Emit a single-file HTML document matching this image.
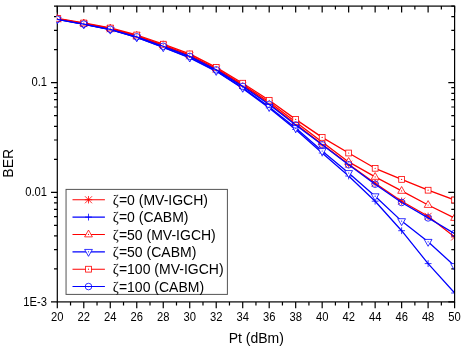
<!DOCTYPE html>
<html><head><meta charset="utf-8"><style>
html,body{margin:0;padding:0;background:#fff;}
svg{display:block;font-family:"Liberation Sans",sans-serif;}
svg{will-change:transform;}
</style></head><body>
<svg width="463" height="347" viewBox="0 0 463 347">
<defs><clipPath id="c"><rect x="56.599999999999994" y="5.6" width="397.40000000000003" height="295.79999999999995"/></clipPath></defs>
<rect width="463" height="347" fill="#fff"/>
<rect x="57.3" y="6.1" width="397.3" height="295.79999999999995" fill="none" stroke="#000" stroke-width="1.2"/>
<path d="M57.30 301.9v6.3M57.30 6.1v6.3M70.54 301.9v3.5M70.54 6.1v3.5M83.79 301.9v6.3M83.79 6.1v6.3M97.03 301.9v3.5M97.03 6.1v3.5M110.27 301.9v6.3M110.27 6.1v6.3M123.52 301.9v3.5M123.52 6.1v3.5M136.76 301.9v6.3M136.76 6.1v6.3M150.00 301.9v3.5M150.00 6.1v3.5M163.25 301.9v6.3M163.25 6.1v6.3M176.49 301.9v3.5M176.49 6.1v3.5M189.73 301.9v6.3M189.73 6.1v6.3M202.98 301.9v3.5M202.98 6.1v3.5M216.22 301.9v6.3M216.22 6.1v6.3M229.46 301.9v3.5M229.46 6.1v3.5M242.71 301.9v6.3M242.71 6.1v6.3M255.95 301.9v3.5M255.95 6.1v3.5M269.19 301.9v6.3M269.19 6.1v6.3M282.44 301.9v3.5M282.44 6.1v3.5M295.68 301.9v6.3M295.68 6.1v6.3M308.92 301.9v3.5M308.92 6.1v3.5M322.17 301.9v6.3M322.17 6.1v6.3M335.41 301.9v3.5M335.41 6.1v3.5M348.65 301.9v6.3M348.65 6.1v6.3M361.90 301.9v3.5M361.90 6.1v3.5M375.14 301.9v6.3M375.14 6.1v6.3M388.38 301.9v3.5M388.38 6.1v3.5M401.63 301.9v6.3M401.63 6.1v6.3M414.87 301.9v3.5M414.87 6.1v3.5M428.11 301.9v6.3M428.11 6.1v6.3M441.36 301.9v3.5M441.36 6.1v3.5M454.60 301.9v6.3M454.60 6.1v6.3M57.3 301.90h-6.3M454.6 301.90h-6.3M57.3 268.91h-3.3M454.6 268.91h-3.3M57.3 249.61h-3.3M454.6 249.61h-3.3M57.3 235.91h-3.3M454.6 235.91h-3.3M57.3 225.29h-3.3M454.6 225.29h-3.3M57.3 216.61h-3.3M454.6 216.61h-3.3M57.3 209.28h-3.3M454.6 209.28h-3.3M57.3 202.92h-3.3M454.6 202.92h-3.3M57.3 197.32h-3.3M454.6 197.32h-3.3M57.3 192.30h-6.3M454.6 192.30h-6.3M57.3 159.31h-3.3M454.6 159.31h-3.3M57.3 140.01h-3.3M454.6 140.01h-3.3M57.3 126.31h-3.3M454.6 126.31h-3.3M57.3 115.69h-3.3M454.6 115.69h-3.3M57.3 107.01h-3.3M454.6 107.01h-3.3M57.3 99.68h-3.3M454.6 99.68h-3.3M57.3 93.32h-3.3M454.6 93.32h-3.3M57.3 87.72h-3.3M454.6 87.72h-3.3M57.3 82.70h-6.3M454.6 82.70h-6.3M57.3 49.71h-3.3M454.6 49.71h-3.3M57.3 30.41h-3.3M454.6 30.41h-3.3M57.3 16.71h-3.3M454.6 16.71h-3.3M57.3 6.09h-3.3M454.6 6.09h-3.3" stroke="#000" stroke-width="1.2" fill="none"/>
<g clip-path="url(#c)">
<polyline points="57.30,18.90 83.79,23.60 110.27,28.70 136.76,36.10 163.25,45.70 189.73,55.80 216.22,69.30 242.71,85.50 269.19,103.50 295.68,124.00 322.17,144.30 348.65,164.20 375.14,183.20 401.63,201.20 428.11,216.30 454.60,237.00" fill="none" stroke="#ff0000" stroke-width="1.3" stroke-linejoin="round"/>
<path d="M57.30 15.20V22.60M53.80 15.40L60.80 22.40M53.80 22.40L60.80 15.40M53.60 18.90H61.00" fill="none" stroke="#ff0000" stroke-width="0.8"/>
<path d="M83.79 19.90V27.30M80.29 20.10L87.29 27.10M80.29 27.10L87.29 20.10M80.09 23.60H87.49" fill="none" stroke="#ff0000" stroke-width="0.8"/>
<path d="M110.27 25.00V32.40M106.77 25.20L113.77 32.20M106.77 32.20L113.77 25.20M106.57 28.70H113.97" fill="none" stroke="#ff0000" stroke-width="0.8"/>
<path d="M136.76 32.40V39.80M133.26 32.60L140.26 39.60M133.26 39.60L140.26 32.60M133.06 36.10H140.46" fill="none" stroke="#ff0000" stroke-width="0.8"/>
<path d="M163.25 42.00V49.40M159.75 42.20L166.75 49.20M159.75 49.20L166.75 42.20M159.55 45.70H166.95" fill="none" stroke="#ff0000" stroke-width="0.8"/>
<path d="M189.73 52.10V59.50M186.23 52.30L193.23 59.30M186.23 59.30L193.23 52.30M186.03 55.80H193.43" fill="none" stroke="#ff0000" stroke-width="0.8"/>
<path d="M216.22 65.60V73.00M212.72 65.80L219.72 72.80M212.72 72.80L219.72 65.80M212.52 69.30H219.92" fill="none" stroke="#ff0000" stroke-width="0.8"/>
<path d="M242.71 81.80V89.20M239.21 82.00L246.21 89.00M239.21 89.00L246.21 82.00M239.01 85.50H246.41" fill="none" stroke="#ff0000" stroke-width="0.8"/>
<path d="M269.19 99.80V107.20M265.69 100.00L272.69 107.00M265.69 107.00L272.69 100.00M265.49 103.50H272.89" fill="none" stroke="#ff0000" stroke-width="0.8"/>
<path d="M295.68 120.30V127.70M292.18 120.50L299.18 127.50M292.18 127.50L299.18 120.50M291.98 124.00H299.38" fill="none" stroke="#ff0000" stroke-width="0.8"/>
<path d="M322.17 140.60V148.00M318.67 140.80L325.67 147.80M318.67 147.80L325.67 140.80M318.47 144.30H325.87" fill="none" stroke="#ff0000" stroke-width="0.8"/>
<path d="M348.65 160.50V167.90M345.15 160.70L352.15 167.70M345.15 167.70L352.15 160.70M344.95 164.20H352.35" fill="none" stroke="#ff0000" stroke-width="0.8"/>
<path d="M375.14 179.50V186.90M371.64 179.70L378.64 186.70M371.64 186.70L378.64 179.70M371.44 183.20H378.84" fill="none" stroke="#ff0000" stroke-width="0.8"/>
<path d="M401.63 197.50V204.90M398.13 197.70L405.13 204.70M398.13 204.70L405.13 197.70M397.93 201.20H405.33" fill="none" stroke="#ff0000" stroke-width="0.8"/>
<path d="M428.11 212.60V220.00M424.61 212.80L431.61 219.80M424.61 219.80L431.61 212.80M424.41 216.30H431.81" fill="none" stroke="#ff0000" stroke-width="0.8"/>
<path d="M454.60 233.30V240.70M451.10 233.50L458.10 240.50M451.10 240.50L458.10 233.50M450.90 237.00H458.30" fill="none" stroke="#ff0000" stroke-width="0.8"/>
<polyline points="57.30,19.20 83.79,24.20 110.27,29.50 136.76,37.30 163.25,47.39 189.73,57.88 216.22,71.32 242.71,88.50 269.19,107.88 295.68,129.50 322.17,153.00 348.65,176.00 375.14,201.20 401.63,230.70 428.11,263.60 454.60,293.00" fill="none" stroke="#0000ff" stroke-width="1.3" stroke-linejoin="round"/>
<path d="M57.30 15.80V22.60M53.90 19.20H60.70" fill="none" stroke="#0000ff" stroke-width="0.8"/>
<path d="M83.79 20.80V27.60M80.39 24.20H87.19" fill="none" stroke="#0000ff" stroke-width="0.8"/>
<path d="M110.27 26.10V32.90M106.87 29.50H113.67" fill="none" stroke="#0000ff" stroke-width="0.8"/>
<path d="M136.76 33.90V40.70M133.36 37.30H140.16" fill="none" stroke="#0000ff" stroke-width="0.8"/>
<path d="M163.25 43.99V50.79M159.85 47.39H166.65" fill="none" stroke="#0000ff" stroke-width="0.8"/>
<path d="M189.73 54.48V61.28M186.33 57.88H193.13" fill="none" stroke="#0000ff" stroke-width="0.8"/>
<path d="M216.22 67.92V74.72M212.82 71.32H219.62" fill="none" stroke="#0000ff" stroke-width="0.8"/>
<path d="M242.71 85.10V91.90M239.31 88.50H246.11" fill="none" stroke="#0000ff" stroke-width="0.8"/>
<path d="M269.19 104.48V111.28M265.79 107.88H272.59" fill="none" stroke="#0000ff" stroke-width="0.8"/>
<path d="M295.68 126.10V132.90M292.28 129.50H299.08" fill="none" stroke="#0000ff" stroke-width="0.8"/>
<path d="M322.17 149.60V156.40M318.77 153.00H325.57" fill="none" stroke="#0000ff" stroke-width="0.8"/>
<path d="M348.65 172.60V179.40M345.25 176.00H352.05" fill="none" stroke="#0000ff" stroke-width="0.8"/>
<path d="M375.14 197.80V204.60M371.74 201.20H378.54" fill="none" stroke="#0000ff" stroke-width="0.8"/>
<path d="M401.63 227.30V234.10M398.23 230.70H405.03" fill="none" stroke="#0000ff" stroke-width="0.8"/>
<path d="M428.11 260.20V267.00M424.71 263.60H431.51" fill="none" stroke="#0000ff" stroke-width="0.8"/>
<path d="M454.60 289.60V296.40M451.20 293.00H458.00" fill="none" stroke="#0000ff" stroke-width="0.8"/>
<polyline points="57.30,18.90 83.79,23.50 110.27,28.50 136.76,35.80 163.25,45.20 189.73,55.20 216.22,68.46 242.71,84.60 269.19,102.04 295.68,122.00 322.17,142.00 348.65,161.90 375.14,176.90 401.63,190.90 428.11,205.00 454.60,218.00" fill="none" stroke="#ff0000" stroke-width="1.3" stroke-linejoin="round"/>
<path d="M57.30 14.50L61.20 21.30L53.40 21.30Z" fill="#fff" stroke="#ff0000" stroke-width="0.8"/><circle cx="57.30" cy="18.90" r="0.6" fill="#ff0000"/>
<path d="M83.79 19.10L87.69 25.90L79.89 25.90Z" fill="#fff" stroke="#ff0000" stroke-width="0.8"/><circle cx="83.79" cy="23.50" r="0.6" fill="#ff0000"/>
<path d="M110.27 24.10L114.17 30.90L106.37 30.90Z" fill="#fff" stroke="#ff0000" stroke-width="0.8"/><circle cx="110.27" cy="28.50" r="0.6" fill="#ff0000"/>
<path d="M136.76 31.40L140.66 38.20L132.86 38.20Z" fill="#fff" stroke="#ff0000" stroke-width="0.8"/><circle cx="136.76" cy="35.80" r="0.6" fill="#ff0000"/>
<path d="M163.25 40.80L167.15 47.60L159.35 47.60Z" fill="#fff" stroke="#ff0000" stroke-width="0.8"/><circle cx="163.25" cy="45.20" r="0.6" fill="#ff0000"/>
<path d="M189.73 50.80L193.63 57.60L185.83 57.60Z" fill="#fff" stroke="#ff0000" stroke-width="0.8"/><circle cx="189.73" cy="55.20" r="0.6" fill="#ff0000"/>
<path d="M216.22 64.06L220.12 70.86L212.32 70.86Z" fill="#fff" stroke="#ff0000" stroke-width="0.8"/><circle cx="216.22" cy="68.46" r="0.6" fill="#ff0000"/>
<path d="M242.71 80.20L246.61 87.00L238.81 87.00Z" fill="#fff" stroke="#ff0000" stroke-width="0.8"/><circle cx="242.71" cy="84.60" r="0.6" fill="#ff0000"/>
<path d="M269.19 97.64L273.09 104.44L265.29 104.44Z" fill="#fff" stroke="#ff0000" stroke-width="0.8"/><circle cx="269.19" cy="102.04" r="0.6" fill="#ff0000"/>
<path d="M295.68 117.60L299.58 124.40L291.78 124.40Z" fill="#fff" stroke="#ff0000" stroke-width="0.8"/><circle cx="295.68" cy="122.00" r="0.6" fill="#ff0000"/>
<path d="M322.17 137.60L326.07 144.40L318.27 144.40Z" fill="#fff" stroke="#ff0000" stroke-width="0.8"/><circle cx="322.17" cy="142.00" r="0.6" fill="#ff0000"/>
<path d="M348.65 157.50L352.55 164.30L344.75 164.30Z" fill="#fff" stroke="#ff0000" stroke-width="0.8"/><circle cx="348.65" cy="161.90" r="0.6" fill="#ff0000"/>
<path d="M375.14 172.50L379.04 179.30L371.24 179.30Z" fill="#fff" stroke="#ff0000" stroke-width="0.8"/><circle cx="375.14" cy="176.90" r="0.6" fill="#ff0000"/>
<path d="M401.63 186.50L405.53 193.30L397.73 193.30Z" fill="#fff" stroke="#ff0000" stroke-width="0.8"/><circle cx="401.63" cy="190.90" r="0.6" fill="#ff0000"/>
<path d="M428.11 200.60L432.01 207.40L424.21 207.40Z" fill="#fff" stroke="#ff0000" stroke-width="0.8"/><circle cx="428.11" cy="205.00" r="0.6" fill="#ff0000"/>
<path d="M454.60 213.60L458.50 220.40L450.70 220.40Z" fill="#fff" stroke="#ff0000" stroke-width="0.8"/><circle cx="454.60" cy="218.00" r="0.6" fill="#ff0000"/>
<polyline points="57.30,19.40 83.79,24.30 110.27,29.60 136.76,37.30 163.25,47.20 189.73,57.50 216.22,70.90 242.71,87.75 269.19,106.90 295.68,128.00 322.17,151.00 348.65,173.00 375.14,196.20 401.63,221.10 428.11,241.80 454.60,266.00" fill="none" stroke="#0000ff" stroke-width="1.3" stroke-linejoin="round"/>
<path d="M57.30 23.90L61.20 17.00L53.40 17.00Z" fill="#fff" stroke="#0000ff" stroke-width="0.8"/><circle cx="57.30" cy="19.40" r="0.6" fill="#0000ff"/>
<path d="M83.79 28.80L87.69 21.90L79.89 21.90Z" fill="#fff" stroke="#0000ff" stroke-width="0.8"/><circle cx="83.79" cy="24.30" r="0.6" fill="#0000ff"/>
<path d="M110.27 34.10L114.17 27.20L106.37 27.20Z" fill="#fff" stroke="#0000ff" stroke-width="0.8"/><circle cx="110.27" cy="29.60" r="0.6" fill="#0000ff"/>
<path d="M136.76 41.80L140.66 34.90L132.86 34.90Z" fill="#fff" stroke="#0000ff" stroke-width="0.8"/><circle cx="136.76" cy="37.30" r="0.6" fill="#0000ff"/>
<path d="M163.25 51.70L167.15 44.80L159.35 44.80Z" fill="#fff" stroke="#0000ff" stroke-width="0.8"/><circle cx="163.25" cy="47.20" r="0.6" fill="#0000ff"/>
<path d="M189.73 62.00L193.63 55.10L185.83 55.10Z" fill="#fff" stroke="#0000ff" stroke-width="0.8"/><circle cx="189.73" cy="57.50" r="0.6" fill="#0000ff"/>
<path d="M216.22 75.40L220.12 68.50L212.32 68.50Z" fill="#fff" stroke="#0000ff" stroke-width="0.8"/><circle cx="216.22" cy="70.90" r="0.6" fill="#0000ff"/>
<path d="M242.71 92.25L246.61 85.35L238.81 85.35Z" fill="#fff" stroke="#0000ff" stroke-width="0.8"/><circle cx="242.71" cy="87.75" r="0.6" fill="#0000ff"/>
<path d="M269.19 111.40L273.09 104.50L265.29 104.50Z" fill="#fff" stroke="#0000ff" stroke-width="0.8"/><circle cx="269.19" cy="106.90" r="0.6" fill="#0000ff"/>
<path d="M295.68 132.50L299.58 125.60L291.78 125.60Z" fill="#fff" stroke="#0000ff" stroke-width="0.8"/><circle cx="295.68" cy="128.00" r="0.6" fill="#0000ff"/>
<path d="M322.17 155.50L326.07 148.60L318.27 148.60Z" fill="#fff" stroke="#0000ff" stroke-width="0.8"/><circle cx="322.17" cy="151.00" r="0.6" fill="#0000ff"/>
<path d="M348.65 177.50L352.55 170.60L344.75 170.60Z" fill="#fff" stroke="#0000ff" stroke-width="0.8"/><circle cx="348.65" cy="173.00" r="0.6" fill="#0000ff"/>
<path d="M375.14 200.70L379.04 193.80L371.24 193.80Z" fill="#fff" stroke="#0000ff" stroke-width="0.8"/><circle cx="375.14" cy="196.20" r="0.6" fill="#0000ff"/>
<path d="M401.63 225.60L405.53 218.70L397.73 218.70Z" fill="#fff" stroke="#0000ff" stroke-width="0.8"/><circle cx="401.63" cy="221.10" r="0.6" fill="#0000ff"/>
<path d="M428.11 246.30L432.01 239.40L424.21 239.40Z" fill="#fff" stroke="#0000ff" stroke-width="0.8"/><circle cx="428.11" cy="241.80" r="0.6" fill="#0000ff"/>
<path d="M454.60 270.50L458.50 263.60L450.70 263.60Z" fill="#fff" stroke="#0000ff" stroke-width="0.8"/><circle cx="454.60" cy="266.00" r="0.6" fill="#0000ff"/>
<polyline points="57.30,18.40 83.79,23.00 110.27,28.00 136.76,35.00 163.25,44.20 189.73,53.90 216.22,67.32 242.71,83.20 269.19,100.28 295.68,119.40 322.17,137.40 348.65,153.00 375.14,168.30 401.63,179.40 428.11,190.20 454.60,200.00" fill="none" stroke="#ff0000" stroke-width="1.3" stroke-linejoin="round"/>
<rect x="54.40" y="15.50" width="5.8" height="5.8" fill="#fff" stroke="#ff0000" stroke-width="0.8"/><circle cx="57.30" cy="18.40" r="0.6" fill="#ff0000"/>
<rect x="80.89" y="20.10" width="5.8" height="5.8" fill="#fff" stroke="#ff0000" stroke-width="0.8"/><circle cx="83.79" cy="23.00" r="0.6" fill="#ff0000"/>
<rect x="107.37" y="25.10" width="5.8" height="5.8" fill="#fff" stroke="#ff0000" stroke-width="0.8"/><circle cx="110.27" cy="28.00" r="0.6" fill="#ff0000"/>
<rect x="133.86" y="32.10" width="5.8" height="5.8" fill="#fff" stroke="#ff0000" stroke-width="0.8"/><circle cx="136.76" cy="35.00" r="0.6" fill="#ff0000"/>
<rect x="160.35" y="41.30" width="5.8" height="5.8" fill="#fff" stroke="#ff0000" stroke-width="0.8"/><circle cx="163.25" cy="44.20" r="0.6" fill="#ff0000"/>
<rect x="186.83" y="51.00" width="5.8" height="5.8" fill="#fff" stroke="#ff0000" stroke-width="0.8"/><circle cx="189.73" cy="53.90" r="0.6" fill="#ff0000"/>
<rect x="213.32" y="64.42" width="5.8" height="5.8" fill="#fff" stroke="#ff0000" stroke-width="0.8"/><circle cx="216.22" cy="67.32" r="0.6" fill="#ff0000"/>
<rect x="239.81" y="80.30" width="5.8" height="5.8" fill="#fff" stroke="#ff0000" stroke-width="0.8"/><circle cx="242.71" cy="83.20" r="0.6" fill="#ff0000"/>
<rect x="266.29" y="97.38" width="5.8" height="5.8" fill="#fff" stroke="#ff0000" stroke-width="0.8"/><circle cx="269.19" cy="100.28" r="0.6" fill="#ff0000"/>
<rect x="292.78" y="116.50" width="5.8" height="5.8" fill="#fff" stroke="#ff0000" stroke-width="0.8"/><circle cx="295.68" cy="119.40" r="0.6" fill="#ff0000"/>
<rect x="319.27" y="134.50" width="5.8" height="5.8" fill="#fff" stroke="#ff0000" stroke-width="0.8"/><circle cx="322.17" cy="137.40" r="0.6" fill="#ff0000"/>
<rect x="345.75" y="150.10" width="5.8" height="5.8" fill="#fff" stroke="#ff0000" stroke-width="0.8"/><circle cx="348.65" cy="153.00" r="0.6" fill="#ff0000"/>
<rect x="372.24" y="165.40" width="5.8" height="5.8" fill="#fff" stroke="#ff0000" stroke-width="0.8"/><circle cx="375.14" cy="168.30" r="0.6" fill="#ff0000"/>
<rect x="398.73" y="176.50" width="5.8" height="5.8" fill="#fff" stroke="#ff0000" stroke-width="0.8"/><circle cx="401.63" cy="179.40" r="0.6" fill="#ff0000"/>
<rect x="425.21" y="187.30" width="5.8" height="5.8" fill="#fff" stroke="#ff0000" stroke-width="0.8"/><circle cx="428.11" cy="190.20" r="0.6" fill="#ff0000"/>
<rect x="451.70" y="197.10" width="5.8" height="5.8" fill="#fff" stroke="#ff0000" stroke-width="0.8"/><circle cx="454.60" cy="200.00" r="0.6" fill="#ff0000"/>
<polyline points="57.30,19.30 83.79,24.10 110.27,29.30 136.76,36.80 163.25,46.25 189.73,56.40 216.22,69.86 242.71,86.35 269.19,104.44 295.68,125.00 322.17,144.80 348.65,164.80 375.14,184.20 401.63,202.50 428.11,217.90 454.60,233.50" fill="none" stroke="#0000ff" stroke-width="1.3" stroke-linejoin="round"/>
<circle cx="57.30" cy="19.30" r="3.3" fill="none" stroke="#0000ff" stroke-width="0.8"/><circle cx="57.30" cy="19.30" r="0.6" fill="#0000ff"/>
<circle cx="83.79" cy="24.10" r="3.3" fill="none" stroke="#0000ff" stroke-width="0.8"/><circle cx="83.79" cy="24.10" r="0.6" fill="#0000ff"/>
<circle cx="110.27" cy="29.30" r="3.3" fill="none" stroke="#0000ff" stroke-width="0.8"/><circle cx="110.27" cy="29.30" r="0.6" fill="#0000ff"/>
<circle cx="136.76" cy="36.80" r="3.3" fill="none" stroke="#0000ff" stroke-width="0.8"/><circle cx="136.76" cy="36.80" r="0.6" fill="#0000ff"/>
<circle cx="163.25" cy="46.25" r="3.3" fill="none" stroke="#0000ff" stroke-width="0.8"/><circle cx="163.25" cy="46.25" r="0.6" fill="#0000ff"/>
<circle cx="189.73" cy="56.40" r="3.3" fill="none" stroke="#0000ff" stroke-width="0.8"/><circle cx="189.73" cy="56.40" r="0.6" fill="#0000ff"/>
<circle cx="216.22" cy="69.86" r="3.3" fill="none" stroke="#0000ff" stroke-width="0.8"/><circle cx="216.22" cy="69.86" r="0.6" fill="#0000ff"/>
<circle cx="242.71" cy="86.35" r="3.3" fill="none" stroke="#0000ff" stroke-width="0.8"/><circle cx="242.71" cy="86.35" r="0.6" fill="#0000ff"/>
<circle cx="269.19" cy="104.44" r="3.3" fill="none" stroke="#0000ff" stroke-width="0.8"/><circle cx="269.19" cy="104.44" r="0.6" fill="#0000ff"/>
<circle cx="295.68" cy="125.00" r="3.3" fill="none" stroke="#0000ff" stroke-width="0.8"/><circle cx="295.68" cy="125.00" r="0.6" fill="#0000ff"/>
<circle cx="322.17" cy="144.80" r="3.3" fill="none" stroke="#0000ff" stroke-width="0.8"/><circle cx="322.17" cy="144.80" r="0.6" fill="#0000ff"/>
<circle cx="348.65" cy="164.80" r="3.3" fill="none" stroke="#0000ff" stroke-width="0.8"/><circle cx="348.65" cy="164.80" r="0.6" fill="#0000ff"/>
<circle cx="375.14" cy="184.20" r="3.3" fill="none" stroke="#0000ff" stroke-width="0.8"/><circle cx="375.14" cy="184.20" r="0.6" fill="#0000ff"/>
<circle cx="401.63" cy="202.50" r="3.3" fill="none" stroke="#0000ff" stroke-width="0.8"/><circle cx="401.63" cy="202.50" r="0.6" fill="#0000ff"/>
<circle cx="428.11" cy="217.90" r="3.3" fill="none" stroke="#0000ff" stroke-width="0.8"/><circle cx="428.11" cy="217.90" r="0.6" fill="#0000ff"/>
<circle cx="454.60" cy="233.50" r="3.3" fill="none" stroke="#0000ff" stroke-width="0.8"/><circle cx="454.60" cy="233.50" r="0.6" fill="#0000ff"/>
</g>
<rect x="66.05" y="189.4" width="161.35000000000002" height="104.99999999999997" fill="#fff" stroke="#555" stroke-width="1"/>
<path d="M72.5 199.75H104.9" stroke="#ff0000" stroke-width="1.1"/>
<path d="M88.50 196.05V203.45M85.00 196.25L92.00 203.25M85.00 203.25L92.00 196.25M84.80 199.75H92.20" fill="none" stroke="#ff0000" stroke-width="0.8"/>
<text x="112.8" y="205.05" font-size="14"><tspan font-family="Liberation Serif" font-size="14.5">ζ</tspan><tspan dx="0.1">=0 (MV-IGCH)</tspan></text>
<path d="M72.5 217.11H104.9" stroke="#0000ff" stroke-width="1.1"/>
<path d="M88.50 213.71V220.51M85.10 217.11H91.90" fill="none" stroke="#0000ff" stroke-width="0.8"/>
<text x="112.8" y="222.41" font-size="14"><tspan font-family="Liberation Serif" font-size="14.5">ζ</tspan><tspan dx="0.1">=0 (CABM)</tspan></text>
<path d="M72.5 234.47H104.9" stroke="#ff0000" stroke-width="1.1"/>
<path d="M88.50 230.07L92.40 236.87L84.60 236.87Z" fill="#fff" stroke="#ff0000" stroke-width="0.8"/><circle cx="88.50" cy="234.47" r="0.6" fill="#ff0000"/>
<text x="112.8" y="239.77" font-size="14"><tspan font-family="Liberation Serif" font-size="14.5">ζ</tspan><tspan dx="0.1">=50 (MV-IGCH)</tspan></text>
<path d="M72.5 251.83H104.9" stroke="#0000ff" stroke-width="1.1"/>
<path d="M88.50 256.33L92.40 249.43L84.60 249.43Z" fill="#fff" stroke="#0000ff" stroke-width="0.8"/><circle cx="88.50" cy="251.83" r="0.6" fill="#0000ff"/>
<text x="112.8" y="257.13" font-size="14"><tspan font-family="Liberation Serif" font-size="14.5">ζ</tspan><tspan dx="0.1">=50 (CABM)</tspan></text>
<path d="M72.5 269.19H104.9" stroke="#ff0000" stroke-width="1.1"/>
<rect x="85.60" y="266.29" width="5.8" height="5.8" fill="#fff" stroke="#ff0000" stroke-width="0.8"/><circle cx="88.50" cy="269.19" r="0.6" fill="#ff0000"/>
<text x="112.8" y="274.49" font-size="14"><tspan font-family="Liberation Serif" font-size="14.5">ζ</tspan><tspan dx="0.1">=100 (MV-IGCH)</tspan></text>
<path d="M72.5 286.55H104.9" stroke="#0000ff" stroke-width="1.1"/>
<circle cx="88.50" cy="286.55" r="3.3" fill="none" stroke="#0000ff" stroke-width="0.8"/><circle cx="88.50" cy="286.55" r="0.6" fill="#0000ff"/>
<text x="112.8" y="291.85" font-size="14"><tspan font-family="Liberation Serif" font-size="14.5">ζ</tspan><tspan dx="0.1">=100 (CABM)</tspan></text>
<g font-size="12" fill="#000">
<text transform="translate(57.30,321) scale(0.935,1)" text-anchor="middle">20</text>
<text transform="translate(83.79,321) scale(0.935,1)" text-anchor="middle">22</text>
<text transform="translate(110.27,321) scale(0.935,1)" text-anchor="middle">24</text>
<text transform="translate(136.76,321) scale(0.935,1)" text-anchor="middle">26</text>
<text transform="translate(163.25,321) scale(0.935,1)" text-anchor="middle">28</text>
<text transform="translate(189.73,321) scale(0.935,1)" text-anchor="middle">30</text>
<text transform="translate(216.22,321) scale(0.935,1)" text-anchor="middle">32</text>
<text transform="translate(242.71,321) scale(0.935,1)" text-anchor="middle">34</text>
<text transform="translate(269.19,321) scale(0.935,1)" text-anchor="middle">36</text>
<text transform="translate(295.68,321) scale(0.935,1)" text-anchor="middle">38</text>
<text transform="translate(322.17,321) scale(0.935,1)" text-anchor="middle">40</text>
<text transform="translate(348.65,321) scale(0.935,1)" text-anchor="middle">42</text>
<text transform="translate(375.14,321) scale(0.935,1)" text-anchor="middle">44</text>
<text transform="translate(401.63,321) scale(0.935,1)" text-anchor="middle">46</text>
<text transform="translate(428.11,321) scale(0.935,1)" text-anchor="middle">48</text>
<text transform="translate(454.60,321) scale(0.935,1)" text-anchor="middle">50</text>
<text transform="translate(47.0,86.30) scale(0.935,1)" text-anchor="end">0.1</text>
<text transform="translate(47.0,195.90) scale(0.935,1)" text-anchor="end">0.01</text>
<text transform="translate(47.0,305.50) scale(0.935,1)" text-anchor="end">1E-3</text>
</g>
<text x="256.3" y="342.8" text-anchor="middle" font-size="14" fill="#000">Pt (dBm)</text>
<text transform="translate(13.1,163.3) rotate(-90)" text-anchor="middle" font-size="14" fill="#000">BER</text>
</svg>
</body></html>
